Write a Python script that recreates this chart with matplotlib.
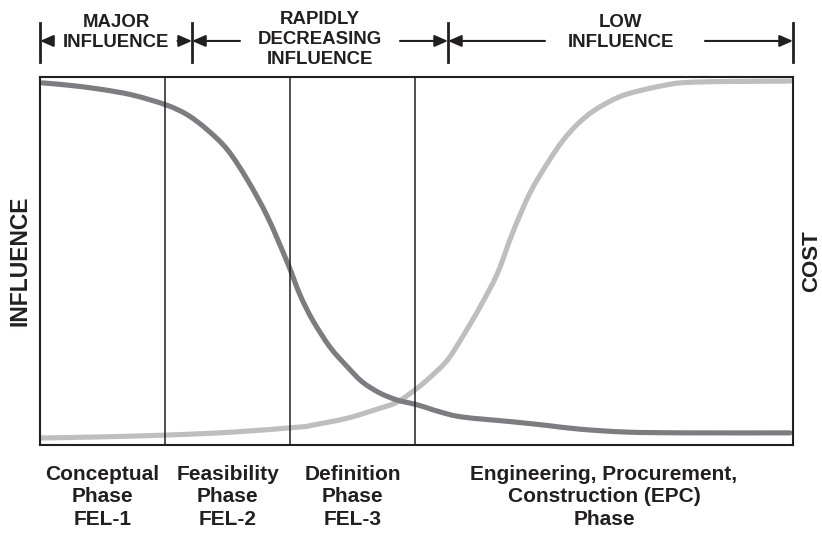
#!/usr/bin/env python3
"""
plot.py — influence vs. cost across project phases (FEL-1 .. EPC).
Writes out.png.
"""

import numpy as np
import matplotlib
matplotlib.use("Agg")
import matplotlib.pyplot as plt
from matplotlib.path import Path
from matplotlib.patches import PathPatch
from matplotlib.transforms import blended_transform_factory

plt.rcParams.update({"font.family": ["Liberation Sans", "DejaVu Sans"],
                     "font.weight": "bold"})

INK = "#231f20"
INFL_COLOR = "#7c7d81"
COST_COLOR = "#bcbec0"

# ---------------------------------------------------------------------------
# Data (x in phase widths, y in % of full scale)
# ---------------------------------------------------------------------------
phase_edges = [0.0, 1.0, 2.0, 3.0, 6.024]
phase_labels = ["Conceptual\nPhase\nFEL-1",
                "Feasibility\nPhase\nFEL-2",
                "Definition\nPhase\nFEL-3",
                "Engineering, Procurement,\nConstruction (EPC)\nPhase"]

zone_edges = [0.0, 1.216, 3.264, 6.024]
zone_labels = ["MAJOR\nINFLUENCE", "RAPIDLY\nDECREASING\nINFLUENCE", "LOW\nINFLUENCE"]
# gaps left in the arrow shafts for the text (left tail, right tail)
zone_tails = [(0.10, 1.10), (1.60, 2.88), (4.04, 5.32)]

influence_x = [0.02, 0.22, 0.48, 0.74, 1.01, 1.18, 1.34, 1.50, 1.66, 1.82,
               1.98, 2.08, 2.18, 2.32, 2.46, 2.58, 2.72, 2.86, 3.02, 3.20,
               3.38, 3.78, 4.06, 4.32, 4.70, 5.20, 6.00]
influence_y = [98.4, 97.8, 96.7, 95.1, 92.4, 89.7, 85.6, 80.2, 72.0, 62.0,
               49.5, 40.8, 34.0, 26.6, 21.2, 17.1, 14.1, 12.2, 10.9, 9.0,
               7.6, 6.3, 5.3, 4.3, 3.5, 3.3, 3.3]

cost_x = [0.00, 0.48, 1.01, 1.54, 2.08, 2.18, 2.46, 2.72, 2.86, 3.02,
          3.14, 3.26, 3.38, 3.52, 3.66, 3.78, 3.92, 4.06, 4.18, 4.30,
          4.42, 4.56, 4.70, 4.96, 5.22, 6.00]
cost_y = [1.9, 2.2, 2.7, 3.5, 4.9, 5.4, 7.3, 10.0, 11.7, 15.5,
          19.0, 23.1, 29.4, 37.5, 46.7, 57.6, 68.5, 76.6, 82.6, 87.2,
          90.6, 93.4, 95.4, 97.5, 98.6, 98.9]


def smooth_path(xs, ys):
    """Bezier path through the points (Catmull-Rom tangents)."""
    p = np.column_stack([xs, ys]).astype(float)
    verts, codes = [p[0]], [Path.MOVETO]
    for i in range(len(p) - 1):
        p0 = p[max(i - 1, 0)]
        p1, p2 = p[i], p[i + 1]
        p3 = p[min(i + 2, len(p) - 1)]
        verts += [p1 + (p2 - p0) / 6, p2 - (p3 - p1) / 6, p2]
        codes += [Path.CURVE4] * 3
    return Path(verts, codes)


# ---------------------------------------------------------------------------
# Figure
# ---------------------------------------------------------------------------
fig = plt.figure(figsize=(8.22, 5.33), dpi=100)
ax = fig.add_axes([0.0487, 0.1651, 0.916, 0.6904])
ax.set_xlim(phase_edges[0], phase_edges[-1])
ax.set_ylim(0, 100)
ax.set_xticks([]); ax.set_yticks([])
for s in ax.spines.values():
    s.set_linewidth(1.5)
    s.set_color(INK)

# phase dividers
for x in phase_edges[1:-1]:
    ax.axvline(x, color=INK, lw=1.1)

for xs, ys, c in [(cost_x, cost_y, COST_COLOR), (influence_x, influence_y, INFL_COLOR)]:
    ax.add_patch(PathPatch(smooth_path(xs, ys), fill=False, edgecolor=c, lw=3.7,
                           capstyle="round", joinstyle="round"))

# axis titles
ax.text(-0.026, 0.5, "INFLUENCE", transform=ax.transAxes, rotation=90,
        ha="center", va="center", fontsize=16.5, color=INK)
ax.text(1.025, 0.5, "COST", transform=ax.transAxes, rotation=90,
        ha="center", va="center", fontsize=16, color=INK)

# phase names under the box
trans = blended_transform_factory(ax.transData, ax.transAxes)
for i, lab in enumerate(phase_labels):
    xc = (phase_edges[i] + phase_edges[i + 1]) / 2
    ax.text(xc, -0.141, lab, transform=trans, ha="center", va="center",
            fontsize=15, color=INK, linespacing=1.25)

# ---------------------------------------------------------------------------
# Influence zones with dimension arrows above the box
# ---------------------------------------------------------------------------
arrow_y = 1.098
for x in zone_edges:
    ax.plot([x, x], [1.041, 1.147], transform=trans, clip_on=False, color=INK, lw=2)

arrow_kw = dict(arrowstyle="-|>,head_length=0.8,head_width=0.35", mutation_scale=10,
                color=INK, lw=1.5, shrinkA=0, shrinkB=0)
for i, lab in enumerate(zone_labels):
    x0, x1 = zone_edges[i], zone_edges[i + 1]
    t0, t1 = zone_tails[i]
    ax.annotate("", xy=(x0, arrow_y), xytext=(t0, arrow_y), xycoords=trans,
                textcoords=trans, arrowprops=arrow_kw, annotation_clip=False)
    ax.annotate("", xy=(x1, arrow_y), xytext=(t1, arrow_y), xycoords=trans,
                textcoords=trans, arrowprops=arrow_kw, annotation_clip=False)
    yc = 1.102 if lab.count("\n") == 2 else 1.121
    ax.text((x0 + x1) / 2, yc, lab, transform=trans, ha="center", va="center",
            fontsize=13.4, color=INK)

fig.savefig("out.png", dpi=100)
plt.close(fig)
